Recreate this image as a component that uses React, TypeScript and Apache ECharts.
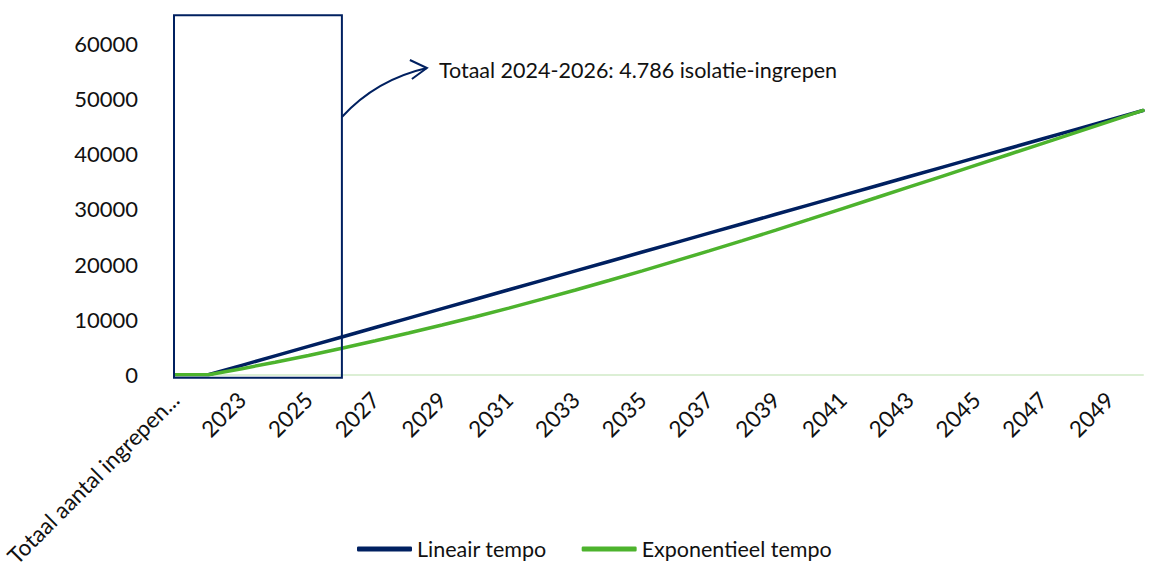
import React, { useEffect, useRef } from "react";
import * as echarts from "echarts";

const categories = [
  "Totaal aantal ingrepen...",
  "2022", "2023", "2024", "2025", "2026", "2027", "2028", "2029", "2030",
  "2031", "2032", "2033", "2034", "2035", "2036", "2037", "2038", "2039", "2040",
  "2041", "2042", "2043", "2044", "2045", "2046", "2047", "2048", "2049", "2050",
];

const lineairTempo = [
  0, 0, 1707, 3414, 5121, 6829, 8536, 10243, 11950, 13657, 15364, 17071, 18779,
  20486, 22193, 23900, 25607, 27314, 29021, 30729, 32436, 34143, 35850, 37557,
  39264, 40971, 42679, 44386, 46093, 47800,
];

const exponentieelTempo = [
  0, 0, 1100, 2260, 3470, 4786, 6140, 7540, 9000, 10500, 12060, 13670, 15330,
  17040, 18790, 20590, 22400, 24250, 26150, 28100, 30060, 32010, 33970, 35935,
  37905, 39880, 41855, 43835, 45815, 47800,
];

const seriesNames = ["Lineair tempo", "Exponentieel tempo"];
const annotationText = "Totaal 2024-2026: 4.786 isolatie-ingrepen";
const boxFromIndex = 0;
const boxToIndex = 5;
const boxTopValue = 65000;

const NAVY = "#002060";
const GREEN = "#4DB32D";
const FONT = "Lato, 'Noto Sans', sans-serif";

export default function App() {
  const ref = useRef<HTMLDivElement>(null);

  useEffect(() => {
    document.body.style.margin = "0";
    if (!ref.current) return;
    const chart = echarts.init(ref.current, undefined, { renderer: "svg" });
    chart.setOption({
      animation: false,
      textStyle: { fontFamily: FONT },
      grid: { left: 175, right: 10, top: 43, bottom: 193, containLabel: false },
      legend: {
        data: seriesNames,
        left: 352,
        top: 533,
        itemWidth: 55,
        itemHeight: 5,
        itemGap: 35,
        icon: "roundRect",
        textStyle: { fontSize: 21.5, color: "#111", fontFamily: FONT },
      },
      xAxis: {
        type: "category",
        data: categories,
        boundaryGap: false,
        axisLine: { lineStyle: { color: "#dcefd5", width: 2 } },
        axisTick: { show: false },
        axisLabel: {
          interval: 1,
          rotate: 45,
          fontSize: 22.5,
          color: "#111",
          margin: 21,
          fontFamily: FONT,
        },
        splitLine: { show: false },
      },
      yAxis: {
        type: "value",
        min: 0,
        max: 60000,
        interval: 10000,
        axisLine: { show: false },
        axisTick: { show: false },
        splitLine: { show: false },
        axisLabel: {
          fontSize: 22,
          color: "#111",
          margin: 37,
          fontFamily: FONT,
          formatter: (v: number) => String(v),
        },
      },
      series: [
        {
          name: seriesNames[0],
          type: "line",
          data: lineairTempo,
          showSymbol: false,
          symbol: "none",
          lineStyle: { color: NAVY, width: 3.5, cap: "round" },
          itemStyle: { color: NAVY },
          z: 2,
        },
        {
          name: seriesNames[1],
          type: "line",
          data: exponentieelTempo,
          showSymbol: false,
          symbol: "none",
          lineStyle: { color: GREEN, width: 3.5, cap: "round" },
          itemStyle: { color: GREEN },
          z: 3,
        },
      ],
    });

    const [x0, yTop] = chart.convertToPixel({ gridIndex: 0 }, [boxFromIndex, boxTopValue]) as number[];
    const [x1, yZero] = chart.convertToPixel({ gridIndex: 0 }, [boxToIndex, 0]) as number[];
    const yBottom = yZero + 3;
    const ay = 117;
    const tipX = x1 + 85;
    const tipY = 68;

    chart.setOption({
      graphic: [
        {
          type: "rect",
          shape: { x: x0 - 1, y: yTop, width: x1 - x0 + 1, height: yBottom - yTop },
          style: { fill: "none", stroke: NAVY, lineWidth: 2 },
          z: 10,
        },
        {
          type: "bezierCurve",
          shape: {
            x1: x1,
            y1: ay,
            cpx1: x1 + 22,
            cpy1: 93,
            cpx2: x1 + 50,
            cpy2: 76,
            x2: tipX,
            y2: tipY,
          },
          style: { fill: "none", stroke: NAVY, lineWidth: 2 },
          z: 10,
        },
        {
          type: "polyline",
          shape: {
            points: [
              [tipX - 17, tipY - 8],
              [tipX, tipY],
              [tipX - 15, tipY + 11],
            ],
          },
          style: { fill: "none", stroke: NAVY, lineWidth: 2 },
          z: 10,
        },
        {
          type: "text",
          x: x1 + 97,
          y: 70,
          style: {
            text: annotationText,
            fill: "#111",
            font: `21.5px ${FONT}`,
            textVerticalAlign: "middle",
            verticalAlign: "middle",
          },
          z: 10,
        },
      ],
    });

    return () => chart.dispose();
  }, []);

  return <div ref={ref} style={{ width: 1153, height: 570 }} />;
}
